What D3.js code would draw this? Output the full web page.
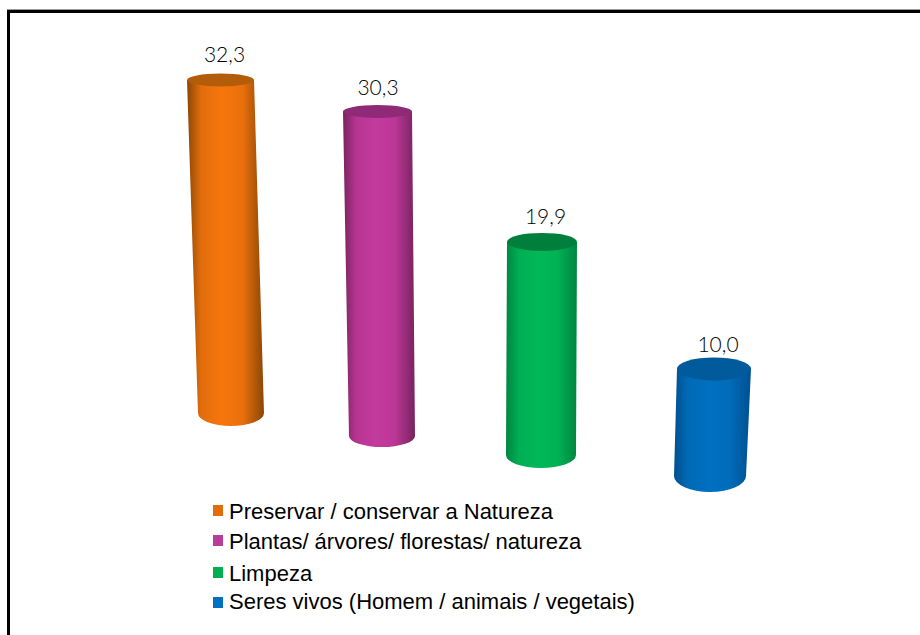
<!DOCTYPE html>
<html><head><meta charset="utf-8">
<script src="https://cdn.jsdelivr.net/npm/d3@7"></script>
<style>html,body{margin:0;padding:0;background:#fff}svg{display:block}</style></head>
<body><svg id="c" width="920" height="635"></svg>
<script>
const categories = ["Preservar / conservar a Natureza","Plantas/ árvores/ florestas/ natureza","Limpeza","Seres vivos (Homem / animais / vegetais)"];
const values = [32.3,30.3,19.9,10.0];
const valueLabels = ["32,3","30,3","19,9","10,0"];
const mainColors = ["#F7760D","#C43A9E","#00B858","#0070C0"];
const edgeColors = ["#8A4706","#78235F","#008542","#00508F"];
const capColors = ["#B35C0A","#8E2A76","#007F3C","#005A9C"];
const legendColors = ["#E36C0A","#B83D9A","#00B050","#0070C0"];

const svg = d3.select("#c");
const idx = d3.range(values.length);
// perspective projection of the depth-staggered cylinders
const xTop = d3.scaleLinear().domain(idx).range([220.5,377.5,542,714]);
const xBase = d3.scaleLinear().domain(idx).range([231,382,541,710]);
const yBase = d3.scaleLinear().domain(idx).range([413,436,455,476]);
const hScale = d3.scaleLinear().domain([0,30.3,32.3]).range([0,324.5,333]);
const rxTop = d3.scaleLinear().domain(idx).range([33.5,34.5,35,37]);
const rxBase = d3.scaleLinear().domain(idx).range([33,33,35,36]);
const ryTop = d3.scaleLinear().domain(idx).range([6.5,6.5,9,11.5]);
const ryBase = d3.scaleLinear().domain(idx).range([13,11,13,16]);

const defs = svg.append("defs");
idx.forEach(i=>{
  const mix = d3.interpolateRgb(edgeColors[i],mainColors[i]);
  const g = defs.append("linearGradient").attr("id","g"+i).attr("x1",0).attr("x2",1).attr("y1",0).attr("y2",0);
  [[0,edgeColors[i]],[.18,mix(.8)],[.45,mainColors[i]],[.72,mix(.88)],[1,edgeColors[i]]]
    .forEach(([o,c])=>g.append("stop").attr("offset",o).attr("stop-color",c));
});

// frame
const frame = svg.append("g");
frame.append("rect").attr("x",7).attr("y",9).attr("width",913).attr("height",1).attr("fill","#999");
frame.append("rect").attr("x",7).attr("y",10).attr("width",913).attr("height",3).attr("fill","#000");
frame.append("rect").attr("x",7).attr("y",10).attr("width",3).attr("height",625).attr("fill","#000");

// cylinders
const cyl = svg.selectAll("g.cyl").data(idx).join("g").attr("class","cyl");
cyl.append("path").attr("fill",i=>`url(#g${i})`).attr("d",i=>{
  const yT = yBase(i)-hScale(values[i]);
  const xt=xTop(i), xb=xBase(i), rt=rxTop(i), rb=rxBase(i), yb=yBase(i), ry=ryBase(i);
  return `M${xt-rt},${yT}L${xb-rb},${yb}A${rb},${ry} 0 0 0 ${xb+rb},${yb}L${xt+rt},${yT}Z`;
});
cyl.append("ellipse").attr("cx",i=>xTop(i)).attr("cy",i=>yBase(i)-hScale(values[i]))
  .attr("rx",i=>rxTop(i)).attr("ry",i=>ryTop(i)).attr("fill",i=>capColors[i]);

// value labels
const labelGap = d3.scaleLinear().domain(idx).range([18,17,18,17]);
const labelShift = d3.scaleLinear().domain(idx).range([4,0.5,3.5,4]);
svg.selectAll("text.val").data(idx).join("text").attr("class","val")
  .attr("x",i=>xTop(i)+labelShift(i)).attr("y",i=>yBase(i)-hScale(values[i])-labelGap(i))
  .attr("text-anchor","middle").attr("font-family","Lato, 'Open Sans', sans-serif").attr("font-weight",300).attr("font-size",21).attr("fill","#000")
  .text(i=>valueLabels[i]);

// legend
const yLegend = d3.scaleLinear().domain(idx).range([519,549,581,609]);
const yLegendBox = d3.scaleLinear().domain(idx).range([505,535,567,597]);
const lg = svg.selectAll("g.lg").data(idx).join("g").attr("class","lg");
lg.append("rect").attr("x",213).attr("y",i=>yLegendBox(i)).attr("width",10).attr("height",11).attr("fill",i=>legendColors[i]);
lg.append("text").attr("x",229).attr("y",i=>yLegend(i)).attr("font-family","'Liberation Sans', Arial, sans-serif").attr("font-size",22).attr("fill","#000")
  .text(i=>categories[i]);
</script></body></html>
